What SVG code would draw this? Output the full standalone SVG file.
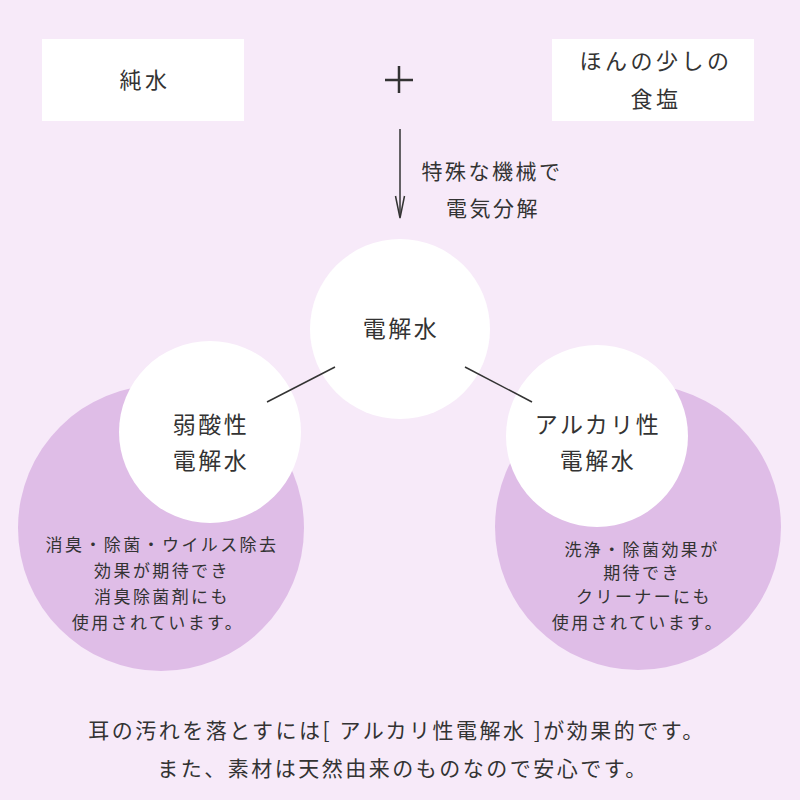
<svg xmlns="http://www.w3.org/2000/svg" width="800" height="800" viewBox="0 0 800 800">
<defs>
<style>
text{font-family:"Noto Sans CJK JP","Noto Sans CJK SC",sans-serif;fill:#333333;text-anchor:middle;}
.box{fill:#ffffff;}
.w{fill:#ffffff;}
.p{fill:#dfbde7;}
.t20{font-size:21px;letter-spacing:2.5px;}
.t22{font-size:22px;letter-spacing:3.5px;}
.t24{font-size:23px;letter-spacing:2.5px;}
.t17{font-size:17px;letter-spacing:2.4px;}
.ln{stroke:#333333;stroke-width:1.5;fill:none;}
</style>
</defs>
<rect width="800" height="800" fill="#f7eaf9"/>

<g id="junsui">
<rect class="box" x="42" y="39" width="202" height="82"/>
<text class="t22" x="145" y="88">純水</text>
</g>
<g id="plus">
<path d="M385,80 H413 M399,66 V93" stroke="#333333" stroke-width="2.5" fill="none"/>
</g>
<g id="shokuen">
<rect class="box" x="552" y="39" width="202" height="82"/>
<text class="t22" x="656" y="69">ほんの少しの</text>
<text class="t22" x="656" y="107">食塩</text>
</g>

<g id="left-node">
<circle class="p" cx="161" cy="528" r="143"/>
<circle class="w" cx="210" cy="432" r="91"/>
<text class="t24" x="211" y="433">弱酸性</text>
<text class="t24" x="211" y="469">電解水</text>
<text class="t17" x="162" y="551">消臭・除菌・ウイルス除去</text>
<text class="t17" x="162" y="577">効果が期待でき</text>
<text class="t17" x="162" y="603">消臭除菌剤にも</text>
<text class="t17" x="158" y="629">使用されています。</text>
</g>

<g id="right-node">
<circle class="p" cx="638" cy="527" r="143"/>
<circle class="w" cx="597" cy="436" r="91"/>
<text class="t24" x="598" y="433">アルカリ性</text>
<text class="t24" x="598" y="469">電解水</text>
<text class="t17" x="642" y="556">洗浄・除菌効果が</text>
<text class="t17" x="642" y="579">期待でき</text>
<text class="t17" x="644" y="603">クリーナーにも</text>
<text class="t17" x="638" y="629">使用されています。</text>
</g>

<g id="center-node">
<circle class="w" cx="400" cy="329" r="90"/>
<text class="t24" x="401" y="337">電解水</text>
</g>

<g id="connectors">
<line class="ln" x1="400" y1="129" x2="400" y2="217"/>
<path class="ln" d="M395.5,196 L400,218 L404.5,196"/>
<line class="ln" x1="335" y1="367" x2="267" y2="402"/>
<line class="ln" x1="465" y1="367" x2="532" y2="402"/>
</g>

<g id="arrow-label">
<text class="t20" x="492" y="179">特殊な機械で</text>
<text class="t20" x="493" y="216">電気分解</text>
</g>

<g id="footer">
<text class="t20" x="397" y="738">耳の汚れを落とすには[ アルカリ性電解水 ]が効果的です。</text>
<text class="t20" x="403" y="776">また、素材は天然由来のものなので安心です。</text>
</g>
</svg>
